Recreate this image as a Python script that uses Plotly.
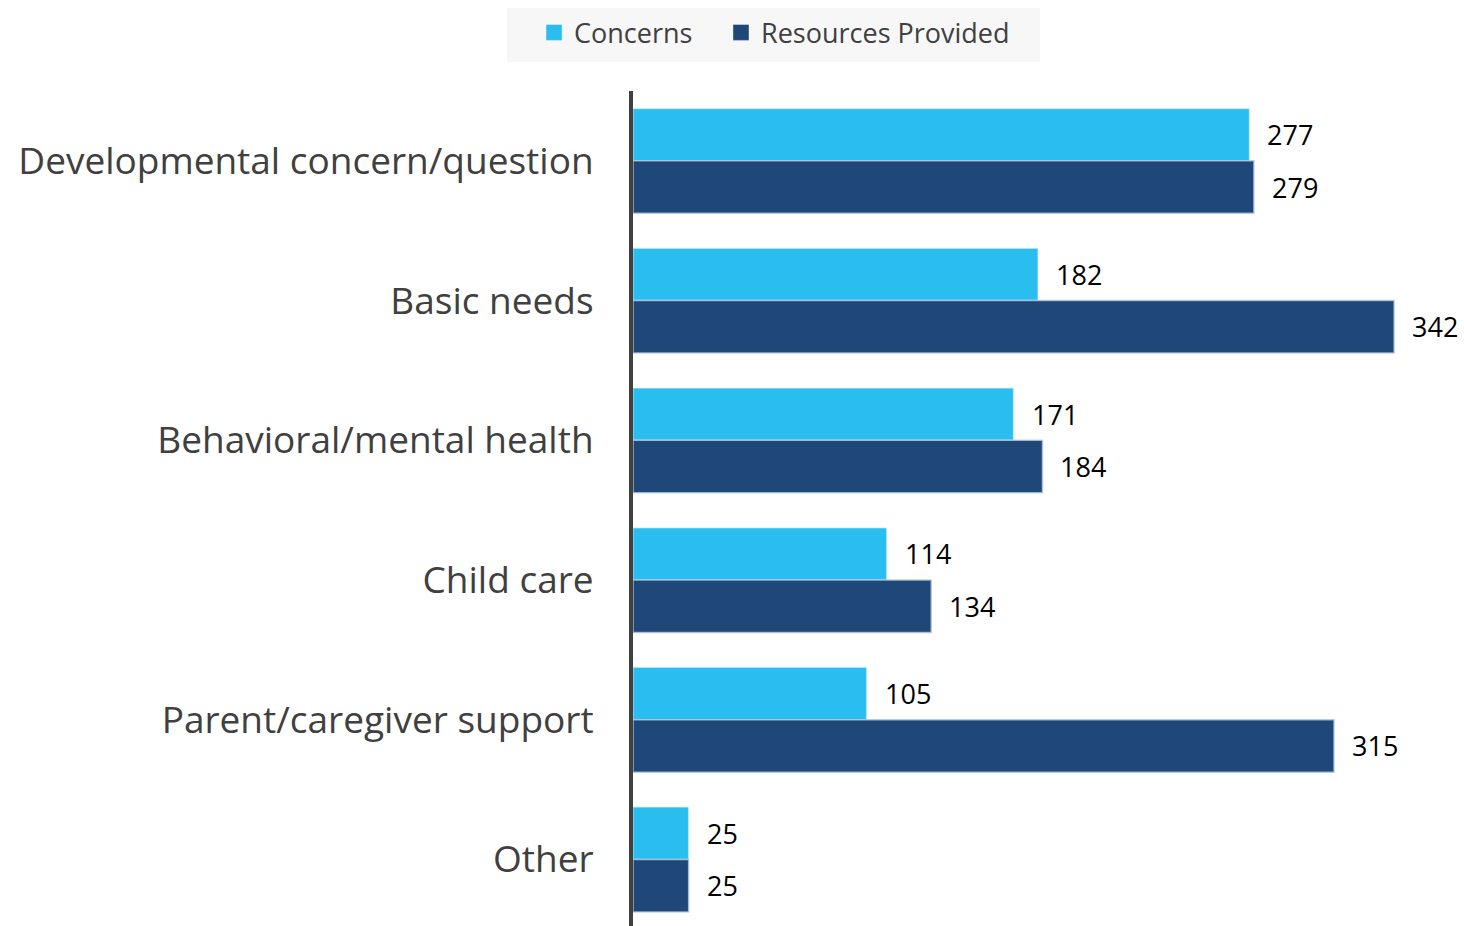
import plotly.graph_objects as go

categories = [
    "Developmental concern/question",
    "Basic needs",
    "Behavioral/mental health",
    "Child care",
    "Parent/caregiver support",
    "Other",
]
concerns = [277, 182, 171, 114, 105, 25]
resources = [279, 342, 184, 134, 315, 25]

CONCERN_COLOR = "#29BDF0"
RESOURCE_COLOR = "#1F4778"
TEXT_GRAY = "#404040"
FONT = "Open Sans"

fig = go.Figure()
fig.add_trace(go.Bar(
    y=categories, x=concerns, name="Concerns", orientation="h", showlegend=False,
    marker=dict(color=CONCERN_COLOR, line=dict(color="rgba(255,255,255,0.45)", width=1.5)),
))
fig.add_trace(go.Bar(
    y=categories, x=resources, name="Resources Provided", orientation="h", showlegend=False,
    marker=dict(color=RESOURCE_COLOR, line=dict(color="rgba(180,200,225,0.8)", width=1.5)),
))

# legend entries with larger square swatches, each in its own legend box
for name, color, lg in (("Concerns", CONCERN_COLOR, "legend"),
                        ("Resources Provided", RESOURCE_COLOR, "legend2")):
    fig.add_trace(go.Scatter(
        x=[None], y=[None], mode="markers", name=name, legend=lg,
        marker=dict(symbol="square", size=16, color=color,
                    line=dict(color="rgba(255,255,255,0.4)", width=1)),
    ))

# value labels beside each bar
for i, cat in enumerate(categories):
    for val, off in ((concerns[i], -0.1875), (resources[i], 0.1875)):
        fig.add_annotation(
            x=val, y=i + off, xref="x", yref="y", text=str(val),
            showarrow=False, xanchor="left", yanchor="middle", xshift=16,
            font=dict(family=FONT, size=27, color="black"),
        )

# legend panel background
fig.add_shape(
    type="rect", xref="paper", yref="paper",
    x0=-0.1516, x1=0.4898, y0=1.0347, y1=1.0994,
    fillcolor="#F7F7F7", line=dict(width=0), layer="below",
)

legend_style = dict(
    orientation="h", xanchor="left", y=1.099, yanchor="top",
    bgcolor="rgba(0,0,0,0)", font=dict(size=27, color=TEXT_GRAY),
)

fig.update_layout(
    width=1464, height=926,
    margin=dict(l=633, r=0, t=91, b=0),
    plot_bgcolor="white", paper_bgcolor="white",
    barmode="group", bargap=0.25, bargroupgap=0,
    font=dict(family=FONT, color=TEXT_GRAY),
    legend=dict(x=-0.1191, **legend_style),
    legend2=dict(x=0.1059, **legend_style),
    showlegend=True,
)
fig.update_xaxes(range=[0, 373.4], visible=False, showgrid=False, zeroline=False)
fig.update_yaxes(
    type="category", range=[5.476, -0.5], showgrid=False, zeroline=False,
    showline=True, linecolor=TEXT_GRAY, linewidth=4, ticks="",
    ticklabelstandoff=28, tickfont=dict(size=37, color=TEXT_GRAY),
)

fig.write_html("out.html")
